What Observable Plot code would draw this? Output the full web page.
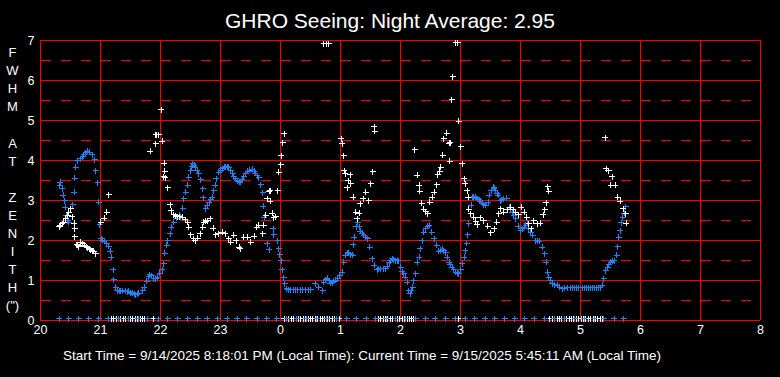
<!DOCTYPE html>
<html>
<head>
<meta charset="utf-8">
<script src="https://cdn.jsdelivr.net/npm/d3@7"></script>
<script src="https://cdn.jsdelivr.net/npm/@observablehq/plot@0.6"></script>
<style>
  html, body { margin: 0; padding: 0; background: #000; }
  #chart { width: 780px; height: 377px; }
</style>
</head>
<body>
<div id="chart"></div>
<script>
// ---------- text ----------
const titleText = "GHRO Seeing: Night Average: 2.95";
const captionText = "Start Time = 9/14/2025 8:18:01 PM (Local Time): Current Time = 9/15/2025 5:45:11 AM (Local Time)";
const yLabelLines = ["F","W","H","M","","A","T","","Z","E","N","I","T","H","(\")"];

// ---------- axes ----------
// hours on a continuous clock (24+ = after midnight)
const hourTicks  = [20,21,22,23,24,25,26,27,28,29,30,31,32];
const hourLabels = ["20","21","22","23","0","1","2","3","4","5","6","7","8"];
const fwhmTicks  = [0,1,2,3,4,5,6,7];
const fwhmLabels = ["0","1","2","3","4","5","6","7"];
const fwhmHalf   = [0.5,1.5,2.5,3.5,4.5,5.5,6.5];

// ---------- data: [hour, FWHM arcsec] ----------
const blueSeeing = [[20.33,3.46],[20.32,3.38],[20.36,3.29],[20.38,3.13],[20.40,3.00],[20.41,2.83],[20.43,2.63],[20.45,2.50],[20.47,2.46],[20.54,2.90],[20.56,3.21],[20.57,3.56],[20.59,3.83],[20.61,4.00],[20.67,4.04],[20.70,4.09],[20.72,4.14],[20.75,4.19],[20.78,4.23],[20.82,4.21],[20.86,4.14],[20.90,4.02],[20.92,3.75],[20.95,3.44],[20.97,2.96],[20.99,2.39],[21.01,2.04],[21.03,2.01],[21.06,1.98],[21.10,1.93],[21.14,1.86],[21.16,1.73],[21.18,1.58],[21.21,1.27],[21.22,1.02],[21.25,0.83],[21.28,0.75],[21.31,0.74],[21.33,0.73],[21.37,0.74],[21.42,0.73],[21.45,0.72],[21.47,0.73],[21.50,0.70],[21.53,0.68],[21.56,0.66],[21.58,0.65],[21.61,0.66],[21.64,0.68],[21.70,0.75],[21.73,0.83],[21.77,0.98],[21.80,1.10],[21.82,1.15],[21.85,1.12],[21.89,1.04],[21.92,1.05],[21.95,1.08],[21.99,1.18],[22.03,1.27],[22.05,1.42],[22.07,1.68],[22.10,1.88],[22.12,2.00],[22.16,2.17],[22.18,2.33],[22.22,2.46],[22.27,2.56],[22.31,2.63],[22.33,2.60],[22.37,2.81],[22.39,3.04],[22.42,3.21],[22.45,3.38],[22.47,3.58],[22.50,3.75],[22.52,3.85],[22.54,3.92],[22.56,3.88],[22.58,3.83],[22.61,3.75],[22.64,3.67],[22.67,3.52],[22.70,3.29],[22.71,3.07],[22.75,2.79],[22.78,2.88],[22.81,2.96],[22.84,3.02],[22.86,3.08],[22.89,3.25],[22.91,3.38],[22.93,3.54],[22.97,3.71],[23.00,3.76],[23.03,3.79],[23.06,3.83],[23.08,3.85],[23.11,3.84],[23.14,3.83],[23.17,3.75],[23.20,3.67],[23.22,3.60],[23.25,3.55],[23.28,3.50],[23.31,3.47],[23.33,3.46],[23.36,3.53],[23.39,3.60],[23.42,3.67],[23.45,3.73],[23.49,3.76],[23.53,3.78],[23.56,3.73],[23.58,3.68],[23.61,3.62],[23.64,3.57],[23.67,3.39],[23.70,3.19],[23.71,2.86],[23.73,2.58],[23.78,1.92],[23.81,1.77],[23.88,2.29],[23.89,2.15],[23.95,2.00],[23.97,1.79],[23.99,1.64],[24.01,1.50],[24.03,1.27],[24.05,1.07],[24.07,0.92],[24.10,0.79],[24.13,0.77],[24.17,0.77],[24.21,0.77],[24.25,0.77],[24.29,0.77],[24.33,0.77],[24.37,0.77],[24.42,0.77],[24.46,0.77],[24.50,0.77],[24.58,0.92],[24.64,0.83],[24.70,0.75],[24.72,0.96],[24.75,1.02],[24.78,1.06],[24.81,1.00],[24.83,0.93],[24.86,0.95],[24.89,0.98],[24.92,1.01],[24.95,1.04],[24.99,1.13],[25.03,1.21],[25.05,1.46],[25.08,1.63],[25.12,1.69],[25.14,1.68],[25.17,1.65],[25.20,1.63],[25.21,1.90],[25.23,2.08],[25.26,2.35],[25.29,2.46],[25.31,2.35],[25.33,2.23],[25.36,2.18],[25.39,2.13],[25.42,2.08],[25.45,2.04],[25.49,1.83],[25.53,1.54],[25.56,1.38],[25.61,1.27],[25.64,1.29],[25.67,1.29],[25.71,1.29],[25.75,1.29],[25.78,1.36],[25.81,1.44],[25.83,1.50],[25.86,1.54],[25.89,1.52],[25.92,1.50],[25.95,1.50],[25.97,1.50],[26.00,1.33],[26.03,1.22],[26.05,1.17],[26.08,1.08],[26.11,0.96],[26.14,0.75],[26.16,0.67],[26.18,0.75],[26.20,0.83],[26.22,1.00],[26.25,1.17],[26.28,1.46],[26.31,1.58],[26.33,1.79],[26.36,2.00],[26.39,2.21],[26.42,2.30],[26.45,2.36],[26.48,2.38],[26.52,2.21],[26.56,2.04],[26.60,1.88],[26.64,1.73],[26.67,1.76],[26.70,1.78],[26.72,1.74],[26.75,1.69],[26.78,1.58],[26.81,1.46],[26.83,1.40],[26.86,1.33],[26.89,1.27],[26.92,1.21],[26.95,1.19],[26.97,1.17],[27.00,1.27],[27.03,1.42],[27.06,1.58],[27.08,1.75],[27.10,1.93],[27.12,2.15],[27.14,2.42],[27.17,2.67],[27.18,2.88],[27.20,3.08],[27.22,3.10],[27.25,3.08],[27.28,3.05],[27.31,3.02],[27.33,2.98],[27.36,2.93],[27.39,2.90],[27.42,2.88],[27.46,2.96],[27.48,3.13],[27.51,3.25],[27.55,3.33],[27.56,3.31],[27.58,3.25],[27.61,3.17],[27.63,3.13],[27.67,3.00],[27.69,3.02],[27.72,3.04],[27.77,3.06],[27.81,2.83],[27.83,2.78],[27.86,2.71],[27.89,2.63],[27.92,2.54],[27.96,2.36],[28.00,2.25],[28.03,2.29],[28.06,2.33],[28.09,2.38],[28.11,2.43],[28.14,2.29],[28.17,2.21],[28.20,2.13],[28.25,2.00],[28.28,1.99],[28.31,1.98],[28.36,1.83],[28.40,1.67],[28.43,1.46],[28.45,1.21],[28.47,1.08],[28.50,1.00],[28.53,0.92],[28.57,0.89],[28.61,0.88],[28.65,0.83],[28.70,0.79],[28.74,0.81],[28.78,0.82],[28.83,0.82],[28.87,0.82],[28.90,0.82],[28.94,0.82],[28.97,0.82],[29.03,0.82],[29.07,0.82],[29.10,0.82],[29.13,0.82],[29.17,0.82],[29.20,0.82],[29.23,0.82],[29.27,0.82],[29.30,0.82],[29.33,0.82],[29.36,0.88],[29.39,1.04],[29.42,1.25],[29.45,1.33],[29.47,1.40],[29.50,1.46],[29.53,1.48],[29.56,1.50],[29.60,1.63],[29.62,1.85],[29.64,2.08],[29.66,2.25],[29.68,2.44],[29.70,2.58],[29.73,2.68],[29.75,2.85]];

const whiteSeeing = [[20.31,2.35],[20.33,2.38],[20.36,2.42],[20.39,2.46],[20.42,2.54],[20.45,2.63],[20.47,2.71],[20.50,2.79],[20.53,2.60],[20.56,2.43],[20.57,2.29],[20.57,2.10],[20.60,1.90],[20.62,1.88],[20.64,1.85],[20.67,1.96],[20.70,1.92],[20.73,1.88],[20.76,1.84],[20.78,1.82],[20.81,1.79],[20.83,1.77],[20.86,1.75],[20.89,1.73],[20.92,1.67],[21.00,2.46],[21.06,2.56],[21.10,2.71],[21.14,3.14],[21.83,4.23],[21.92,4.42],[21.92,4.64],[21.94,4.64],[21.97,4.65],[22.03,4.48],[22.01,5.27],[22.06,3.93],[22.07,3.73],[22.05,3.60],[22.08,3.57],[22.12,3.32],[22.16,2.89],[22.18,2.75],[22.22,2.64],[22.25,2.62],[22.28,2.60],[22.32,2.59],[22.36,2.58],[22.41,2.52],[22.45,2.46],[22.47,2.33],[22.50,2.15],[22.55,2.04],[22.58,2.00],[22.62,2.06],[22.66,2.17],[22.70,2.33],[22.72,2.46],[22.75,2.48],[22.78,2.50],[22.83,2.54],[22.88,2.31],[22.92,2.15],[22.97,2.17],[23.03,2.21],[23.08,2.17],[23.14,2.04],[23.17,1.96],[23.22,2.13],[23.26,2.00],[23.31,1.83],[23.33,1.79],[23.39,2.08],[23.45,2.08],[23.50,1.96],[23.56,2.11],[23.60,2.33],[23.64,2.38],[23.70,2.17],[23.72,2.38],[23.75,2.63],[23.78,3.04],[23.81,3.23],[23.83,3.25],[23.83,2.98],[23.86,2.68],[23.89,2.57],[23.92,2.60],[23.95,3.25],[23.97,3.71],[24.00,3.90],[24.01,4.12],[24.04,4.44],[24.06,4.67],[24.72,6.92],[24.77,6.92],[24.80,6.92],[25.01,4.54],[25.03,4.42],[25.05,4.12],[25.06,3.75],[25.08,3.67],[25.16,3.65],[25.13,3.50],[25.17,3.42],[25.11,3.32],[25.21,3.08],[25.25,2.71],[25.31,2.68],[25.28,2.54],[25.33,2.92],[25.38,3.04],[25.42,3.21],[25.47,3.00],[25.50,3.42],[25.54,3.72],[25.56,4.85],[25.57,4.73],[26.24,4.27],[26.28,3.63],[26.31,3.38],[26.32,3.23],[26.35,2.93],[26.39,2.78],[26.42,2.72],[26.45,2.67],[26.49,2.96],[26.53,3.08],[26.56,3.21],[26.60,3.39],[26.62,3.65],[26.65,3.73],[26.67,3.83],[26.70,4.13],[26.72,4.54],[26.77,4.68],[26.81,4.43],[26.83,4.44],[26.82,3.98],[26.85,5.52],[26.87,6.10],[26.92,6.94],[26.95,6.94],[26.97,4.98],[27.00,4.35],[27.03,3.92],[27.06,3.54],[27.08,3.42],[27.11,3.25],[27.13,3.08],[27.14,2.78],[27.17,2.67],[27.22,2.58],[27.25,2.48],[27.28,2.39],[27.33,2.57],[27.39,2.50],[27.45,2.36],[27.50,2.19],[27.56,2.29],[27.60,2.46],[27.64,2.67],[27.67,2.79],[27.72,2.71],[27.78,2.77],[27.83,2.83],[27.88,2.77],[27.92,2.71],[27.97,2.65],[28.01,2.83],[28.06,2.71],[28.10,2.58],[28.14,2.42],[28.18,2.29],[28.22,2.50],[28.28,2.42],[28.33,2.43],[28.38,2.65],[28.40,2.77],[28.43,2.94],[28.45,3.34],[28.47,3.23],[29.41,4.57],[29.43,3.79],[29.46,3.75],[29.47,3.74],[29.53,3.60],[29.50,3.38],[29.58,3.38],[29.62,3.08],[29.66,2.98],[29.71,2.79],[29.75,2.67],[29.76,2.43]];

// readings of 0 (no measurement) along the bottom
const blueZeroHours = [20.31,20.47,20.64,20.80,20.97,21.13,21.30,21.46,21.63,21.79,21.96,22.12,22.29,22.45,22.62,22.78,22.95,23.11,23.28,23.44,23.61,23.77,23.94,24.10,24.27,24.43,24.60,24.77,24.93,25.10,25.26,25.43,25.59,25.76,25.92,26.09,26.25,26.42,26.58,26.75,26.91,27.08,27.24,27.41,27.57,27.74,27.90,28.07,28.23,28.40,28.56,28.73,28.90,29.06,29.23,29.39,29.56,29.72];
const whiteZeroHours = [21.14,21.18,21.22,21.26,21.30,21.34,21.38,21.42,21.46,21.50,21.54,21.58,21.62,21.66,21.70,21.74,21.78,21.88,
  24.06,24.10,24.14,24.18,24.22,24.26,24.30,24.34,24.38,24.42,24.46,24.50,24.54,24.58,24.62,24.66,24.70,24.74,24.78,24.82,24.86,24.90,24.94,24.98,
  25.59,25.63,25.67,25.71,25.75,25.79,25.83,25.87,25.91,25.95,25.99,26.03,26.07,26.11,26.15,26.19,26.22,26.96,
  28.49,28.53,28.57,28.61,28.65,28.69,28.73,28.77,28.81,28.85,28.89,28.93,28.97,29.01,29.05,29.09,29.13,29.17,29.21,29.25,29.29,29.33,29.37];

// ---------- styles ----------
const BLUE = "#1a85ff";
const GRID = "#ff0000";
const FONT = "'Liberation Sans', Arial, sans-serif";

const cross = {
  draw(context) {
    context.moveTo(-3, 0); context.lineTo(3, 0);
    context.moveTo(0, -3); context.lineTo(0, 3);
  }
};

const blueRows = blueSeeing.map(([h, v]) => ({h, v}));
const whiteRows = whiteSeeing.map(([h, v]) => ({h, v}));
const blueZeros = blueZeroHours.map(h => ({h, v: 0}));
const whiteZeros = whiteZeroHours.map(h => ({h, v: 0}));

const svg = Plot.plot({
  width: 780,
  height: 377,
  marginLeft: 40,
  marginRight: 20,
  marginTop: 40,
  marginBottom: 57,
  style: {background: "#000", color: "#fff", fontFamily: FONT, fontSize: "12.5px", overflow: "visible"},
  x: {domain: [20, 32], ticks: hourTicks, tickFormat: (d) => hourLabels[hourTicks.indexOf(d)], tickSize: 0, tickPadding: 5, label: null},
  y: {domain: [0, 7], ticks: fwhmTicks, tickFormat: (d) => fwhmLabels[fwhmTicks.indexOf(d)], tickSize: 0, tickPadding: 6, label: null},
  marks: [
    Plot.ruleY(fwhmHalf, {stroke: GRID, strokeWidth: 1, strokeDasharray: "10,10", strokeDashoffset: -1}),
    Plot.ruleY(fwhmTicks, {stroke: GRID, strokeWidth: 1}),
    Plot.ruleX(hourTicks, {stroke: GRID, strokeWidth: 1}),
    Plot.dot(whiteZeros, {x: "h", y: "v", dy: -2, symbol: cross, stroke: "#fff", fill: "none", strokeWidth: 1, shapeRendering: "crispEdges"}),
    Plot.dot(blueZeros, {x: "h", y: "v", dy: -2, symbol: cross, stroke: BLUE, fill: "none", strokeWidth: 1, shapeRendering: "crispEdges"}),
    Plot.dot(blueRows, {x: "h", y: "v", symbol: cross, stroke: BLUE, fill: "none", strokeWidth: 1, shapeRendering: "crispEdges"}),
    Plot.dot(whiteRows, {x: "h", y: "v", symbol: cross, stroke: "#fff", fill: "none", strokeWidth: 1, shapeRendering: "crispEdges"})
  ]
});

const s = d3.select(svg);
s.append("text")
  .attr("x", 390).attr("y", 28)
  .attr("text-anchor", "middle")
  .attr("fill", "#fff")
  .style("font-family", FONT).style("font-size", "21px")
  .text(titleText);

s.append("text")
  .attr("x", 362).attr("y", 359.5)
  .attr("text-anchor", "middle")
  .attr("fill", "#fff")
  .style("font-family", FONT).style("font-size", "13.5px")
  .text(captionText);

const yl = s.append("g").attr("fill", "#fff").style("font-family", FONT).style("font-size", "13px").attr("text-anchor", "middle");
yLabelLines.forEach((t, i) => {
  if (t) yl.append("text").attr("x", 12.5).attr("y", 57 + i * 18.1).text(t);
});

document.getElementById("chart").appendChild(svg);
</script>
</body>
</html>
